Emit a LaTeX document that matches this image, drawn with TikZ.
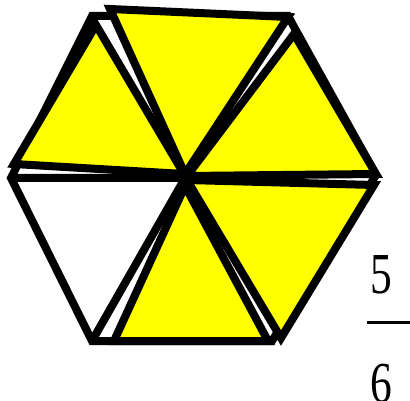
\documentclass[tikz,border=0pt]{standalone}
\usepackage{fontspec}
\setmainfont{Liberation Serif}
\begin{document}
\begin{tikzpicture}[x=1pt,y=-1pt,
  piece/.style={draw=black,line width=8pt,line join=miter,miter limit=4},
  yel/.style={piece,fill={rgb,1:red,1;green,1;blue,0}},
  wht/.style={piece,fill=white},
  num/.style={font=\fontsize{58}{58}\selectfont,inner sep=0pt,anchor=base}]
\useasboundingbox (0,0) rectangle (410,401);
% base hexagon
\coordinate (L) at (11,178);
\coordinate (TL) at (92,16);
\coordinate (TR) at (288,16);
\coordinate (R) at (376,175);
\coordinate (BR) at (272,341);
\coordinate (BL) at (92,341);
\coordinate (C) at (185,178);
\draw[wht] (L) -- (TL) -- (TR) -- (R) -- (BR) -- (BL) -- cycle;
\draw[piece] (L) -- (C) -- (BL);
% yellow pieces
\draw[yel] (96,25) -- (14,164) -- (184,174) -- cycle;
\draw[yel] (110,9) -- (288,17) -- (185,174) -- cycle;
\draw[yel] (294,34) -- (376,174) -- (187,176) -- cycle;
\draw[yel] (187,180) -- (374,185) -- (281,338) -- cycle;
\draw[yel] (185,186) -- (114,341) -- (268,341) -- cycle;
% fraction
\node[num] (n) at (381,293) {\scalebox{0.75}[1]{5}};
\node[num] (d) at (381,402) {\scalebox{0.75}[1]{6}};
\draw[line width=3pt] (367,322) -- (410,322);
\end{tikzpicture}
\end{document}
